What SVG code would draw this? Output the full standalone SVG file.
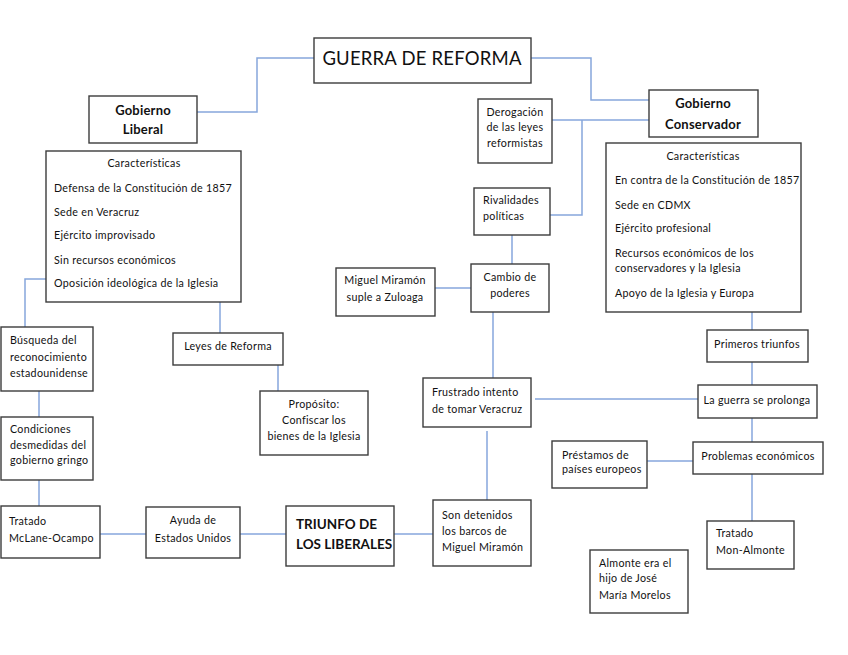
<svg xmlns="http://www.w3.org/2000/svg" width="848" height="655" viewBox="0 0 848 655">
<style>
.b{fill:#fff;stroke:#3c3c3c;stroke-width:1.4}
.c{fill:none;stroke:#86a6dc;stroke-width:1.5}
text{font-family:Lato,"Liberation Sans",sans-serif;font-size:10.7px;letter-spacing:0.3px;fill:#111}
.m{text-anchor:middle}
.h{font-size:13px;font-weight:bold;letter-spacing:0.2px}
.t{font-size:18.5px;letter-spacing:0.2px}
.tb{font-size:13.5px;font-weight:bold;letter-spacing:0}
</style>
<rect width="848" height="655" fill="#fff"/>
<g id="connectors">
<path class="c" d="M314,58H257V112H197"/>
<path class="c" d="M531,58H591V100H649"/>
<path class="c" d="M552,120H649"/>
<path class="c" d="M582,120V215H550"/>
<path class="c" d="M512,235V264"/>
<path class="c" d="M435,288H471"/>
<path class="c" d="M493,312V378"/>
<path class="c" d="M46,279H25V327"/>
<path class="c" d="M220,302V333"/>
<path class="c" d="M278,365V391"/>
<path class="c" d="M39,391V417"/>
<path class="c" d="M39,480V506"/>
<path class="c" d="M100,534H146"/>
<path class="c" d="M240,534H286"/>
<path class="c" d="M394,534H433"/>
<path class="c" d="M487,431V500"/>
<path class="c" d="M535,399H698"/>
<path class="c" d="M752,312V330"/>
<path class="c" d="M752,362V385"/>
<path class="c" d="M752,418V442"/>
<path class="c" d="M647,461H693"/>
<path class="c" d="M752,474V521"/>
</g>
<g id="guerra"><rect class="b" x="314" y="38" width="217" height="45"/><text class="m t" x="422" y="65">GUERRA DE REFORMA</text></g>
<g id="liberal"><rect class="b" x="89" y="96" width="108" height="47"/><text class="m h" x="143" y="115">Gobierno</text><text class="m h" x="143" y="134">Liberal</text></g>
<g id="conservador"><rect class="b" x="649" y="90" width="109" height="47"/><text class="m h" x="703" y="108">Gobierno</text><text class="m h" x="703" y="129">Conservador</text></g>
<g id="derogacion"><rect class="b" x="478" y="99" width="74" height="64"/><text class="m" x="515" y="116">Derogación</text><text class="m" x="515" y="131">de las leyes</text><text class="m" x="515" y="147">reformistas</text></g>
<g id="caract-lib"><rect class="b" x="46" y="151" width="195" height="151"/><text class="m" x="144" y="167">Características</text><text x="54" y="192">Defensa de la Constitución de 1857</text><text x="54" y="216">Sede en Veracruz</text><text x="54" y="239">Ejército improvisado</text><text x="54" y="264">Sin recursos económicos</text><text x="54" y="287">Oposición ideológica de la Iglesia</text></g>
<g id="caract-cons"><rect class="b" x="606" y="143" width="195" height="169"/><text class="m" x="703" y="160">Características</text><text x="615" y="184">En contra de la Constitución de 1857</text><text x="615" y="209">Sede en CDMX</text><text x="615" y="232">Ejército profesional</text><text x="615" y="257">Recursos económicos de los</text><text x="615" y="272">conservadores y la Iglesia</text><text x="615" y="297">Apoyo de la Iglesia y Europa</text></g>
<g id="rivalidades"><rect class="b" x="474" y="188" width="76" height="47"/><text x="483" y="204">Rivalidades</text><text x="483" y="220">políticas</text></g>
<g id="cambio"><rect class="b" x="471" y="264" width="78" height="48"/><text class="m" x="510" y="281">Cambio de</text><text class="m" x="510" y="297">poderes</text></g>
<g id="miramon"><rect class="b" x="336" y="268" width="99" height="48"/><text class="m" x="385" y="284">Miguel Miramón</text><text class="m" x="385" y="301">suple a Zuloaga</text></g>
<g id="busqueda"><rect class="b" x="1" y="327" width="92" height="64"/><text x="10" y="344">Búsqueda del</text><text x="10" y="361">reconocimiento</text><text x="10" y="377">estadounidense</text></g>
<g id="leyes"><rect class="b" x="173" y="333" width="110" height="32"/><text class="m" x="228" y="350">Leyes de Reforma</text></g>
<g id="proposito"><rect class="b" x="260" y="391" width="108" height="64"/><text class="m" x="314" y="408">Propósito:</text><text class="m" x="314" y="424">Confiscar los</text><text class="m" x="314" y="440">bienes de la Iglesia</text></g>
<g id="condiciones"><rect class="b" x="1" y="417" width="92" height="63"/><text x="10" y="433">Condiciones</text><text x="10" y="449">desmedidas del</text><text x="10" y="464">gobierno gringo</text></g>
<g id="primeros"><rect class="b" x="707" y="330" width="101" height="32"/><text class="m" x="757" y="348">Primeros triunfos</text></g>
<g id="laguerra"><rect class="b" x="698" y="385" width="119" height="33"/><text class="m" x="757" y="404">La guerra se prolonga</text></g>
<g id="frustrado"><rect class="b" x="423" y="378" width="108" height="49"/><text x="432" y="396">Frustrado intento</text><text x="432" y="413">de tomar Veracruz</text></g>
<g id="prestamos"><rect class="b" x="552" y="441" width="95" height="47"/><text x="562" y="459">Préstamos de</text><text x="562" y="473">países europeos</text></g>
<g id="problemas"><rect class="b" x="693" y="442" width="130" height="32"/><text class="m" x="758" y="460">Problemas económicos</text></g>
<g id="mclane"><rect class="b" x="1" y="506" width="99" height="52"/><text x="9" y="525">Tratado</text><text x="9" y="542">McLane-Ocampo</text></g>
<g id="ayuda"><rect class="b" x="146" y="507" width="94" height="51"/><text class="m" x="193" y="524">Ayuda de</text><text class="m" x="193" y="542">Estados Unidos</text></g>
<g id="triunfo"><rect class="b" x="286" y="506" width="108" height="60"/><text class="tb" x="296" y="529">TRIUNFO DE</text><text class="tb" x="296" y="549">LOS LIBERALES</text></g>
<g id="detenidos"><rect class="b" x="433" y="500" width="98" height="66"/><text x="442" y="519">Son detenidos</text><text x="442" y="535">los barcos de</text><text x="442" y="551">Miguel Miramón</text></g>
<g id="monalmonte"><rect class="b" x="707" y="521" width="87" height="48"/><text x="716" y="537">Tratado</text><text x="716" y="554">Mon-Almonte</text></g>
<g id="almonte"><rect class="b" x="590" y="550" width="98" height="63"/><text x="599" y="567">Almonte era el</text><text x="599" y="582">hijo de José</text><text x="599" y="599">María Morelos</text></g>
</svg>
